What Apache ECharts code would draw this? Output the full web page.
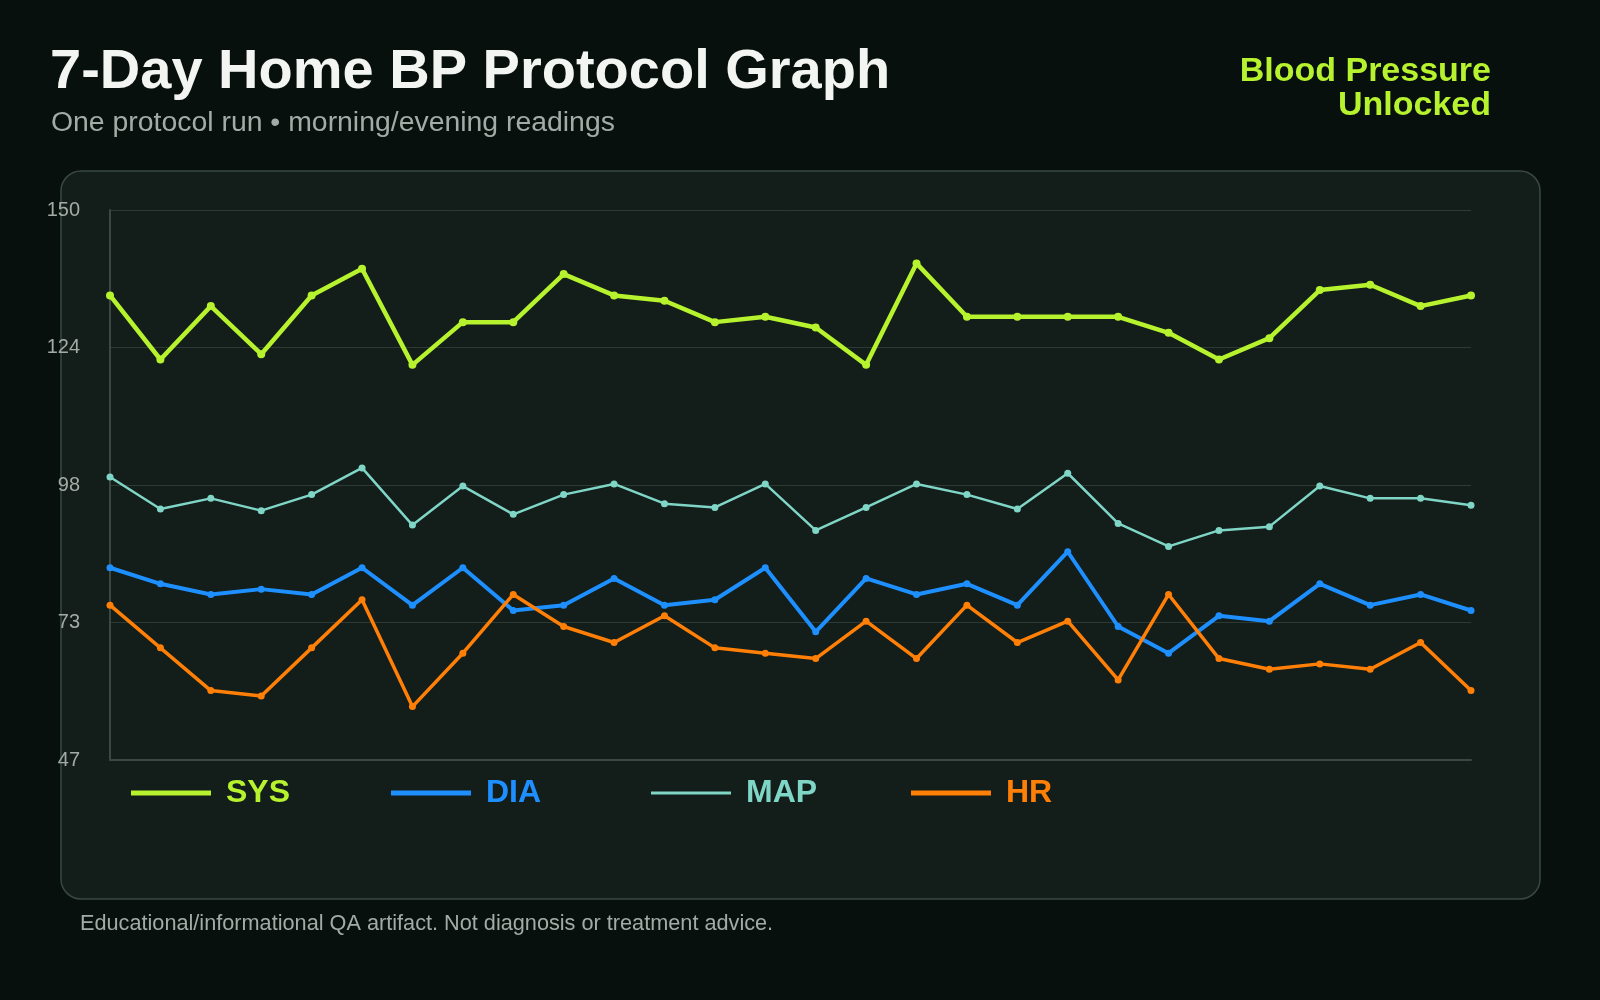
<!DOCTYPE html>
<html>
<head>
<meta charset="utf-8">
<script src="https://cdn.jsdelivr.net/npm/echarts@6/dist/echarts.min.js"></script>
<style>
  html, body { margin: 0; padding: 0; background: #08100e; }
  #chart { width: 1600px; height: 1000px; }
</style>
</head>
<body>
<div id="chart"></div>
<script>
// 7 days x (2 morning + 2 evening) readings
var readings = []
for (var d = 1; d <= 7; d++) {
    readings.push('D' + d + ' AM1', 'D' + d + ' AM2', 'D' + d + ' PM1', 'D' + d + ' PM2')
}

var sys = [134, 122, 132, 123, 134, 139, 121, 129, 129, 138, 134, 133, 129, 130,
           128, 121, 140, 130, 130, 130, 130, 127, 122, 126, 135, 136, 132, 134]
var dia = [83, 80, 78, 79, 78, 83, 76, 83, 75, 76, 81, 76, 77, 83,
           71, 81, 78, 80, 76, 86, 72, 67, 74, 73, 80, 76, 78, 75]
var map = [100.0, 94.0, 96.0, 93.7, 96.7, 101.7, 91.0, 98.3, 93.0, 96.7, 98.7, 95.0, 94.3, 98.7,
           90.0, 94.3, 98.7, 96.7, 94.0, 100.7, 91.3, 87.0, 90.0, 90.7, 98.3, 96.0, 96.0, 94.7]
var hr = [76, 68, 60, 59, 68, 77, 57, 67, 78, 72, 69, 74, 68, 67,
          66, 73, 66, 76, 69, 73, 62, 78, 66, 64, 65, 64, 69, 60]

var yTicks = [47, 73, 98, 124, 150]

var colors = { SYS: '#b6f22e', DIA: '#1e8fff', MAP: '#7fd5c6', HR: '#ff7f07' }

window.onload = function () {
    var chart = echarts.init(document.getElementById('chart'))

    function lineSeries(name, data, width, dot) {
        return {
            name: name,
            type: 'line',
            data: data,
            symbol: 'circle',
            symbolSize: dot,
            showSymbol: true,
            lineStyle: { color: colors[name], width: width },
            itemStyle: { color: colors[name] },
            emphasis: { disabled: true }
        }
    }

    function legendFor(name, left, h) {
        return {
            data: [name],
            left: left,
            top: 772,
            icon: 'rect',
            itemWidth: 80,
            itemHeight: h,
            selectedMode: false,
            itemStyle: { color: colors[name] },
            textStyle: {
                color: colors[name],
                fontSize: 32,
                fontWeight: 'bold',
                fontFamily: 'Liberation Sans',
                padding: [0, 0, 0, 10]
            }
        }
    }

    chart.setOption({
        backgroundColor: '#08100e',
        animation: false,
        graphic: [
            {
                type: 'rect',
                z: -10,
                shape: { x: 61, y: 171, width: 1479, height: 728, r: 20 },
                style: { fill: '#131d19', stroke: '#3a4841', lineWidth: 1.5 }
            },
            {
                type: 'text',
                x: 1491,
                y: 55,
                style: {
                    text: 'Blood Pressure\nUnlocked',
                    align: 'right',
                    verticalAlign: 'top',
                    font: 'bold 34px "Liberation Sans"',
                    lineHeight: 34,
                    fill: '#b6f22e'
                }
            }
        ],
        title: [
            {
                text: '7-Day Home BP Protocol Graph',
                left: 50, top: 45, padding: 0,
                textStyle: { color: '#f2f5f1', fontSize: 56, fontWeight: 'bold', fontFamily: 'Liberation Sans' }
            },
            {
                text: 'One protocol run \u2022 morning/evening readings',
                left: 51, top: 109, padding: 0,
                textStyle: { color: '#a3aba6', fontSize: 28.4, fontWeight: 'normal', fontFamily: 'Liberation Sans' }
            },
            {
                text: 'Educational/informational QA artifact. Not diagnosis or treatment advice.',
                left: 80, top: 913, padding: 0,
                textStyle: { color: '#a3aba6', fontSize: 21.7, fontWeight: 'normal', fontFamily: 'Liberation Sans' }
            }
        ],
        legend: [
            legendFor('SYS', 126, 5),
            legendFor('DIA', 386, 5),
            legendFor('MAP', 646, 3),
            legendFor('HR', 906, 5)
        ],
        grid: { left: 110, right: 129, top: 210, bottom: 240 },
        xAxis: {
            type: 'category',
            data: readings,
            boundaryGap: false,
            axisLine: { lineStyle: { color: '#3a4841', width: 2 } },
            axisTick: { show: false },
            axisLabel: { show: false },
            splitLine: { show: false }
        },
        yAxis: {
            type: 'value',
            min: 47,
            max: 150,
            interval: 25.75,
            axisLine: { show: true, lineStyle: { color: '#3a4841', width: 2 } },
            axisTick: { show: false },
            axisLabel: {
                color: '#a3aba6',
                fontSize: 20,
                fontFamily: 'Liberation Sans',
                margin: 30,
                formatter: function (v) {
                    var best = yTicks[0]
                    yTicks.forEach(function (t) { if (Math.abs(t - v) < Math.abs(best - v)) best = t })
                    return String(best)
                }
            },
            splitLine: { lineStyle: { color: '#2c3a33', width: 1 } }
        },
        series: [
            lineSeries('SYS', sys, 4.5, 8),
            lineSeries('DIA', dia, 4, 7),
            lineSeries('MAP', map, 2.5, 7),
            lineSeries('HR', hr, 3.5, 7)
        ]
    })
}
</script>
</body>
</html>
